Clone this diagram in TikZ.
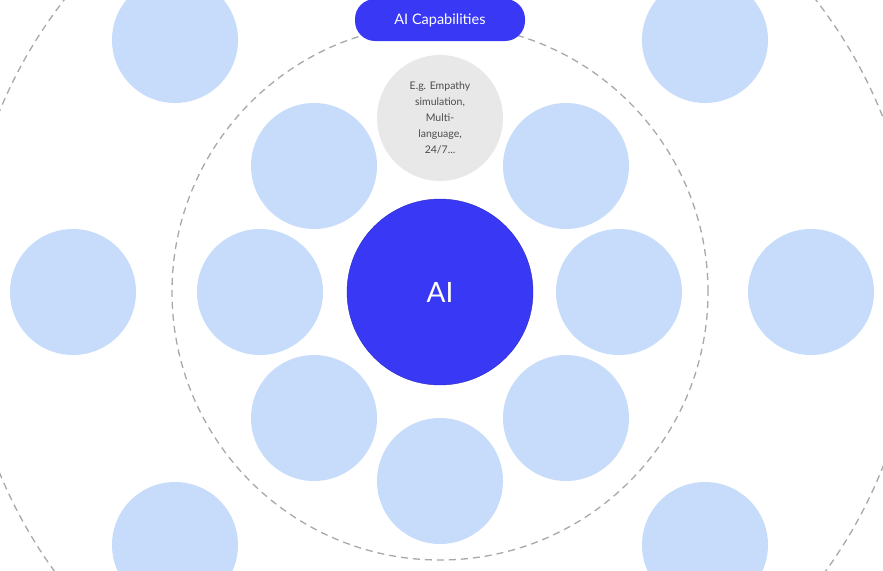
\documentclass[tikz,border=0pt]{standalone}
\usepackage{fontspec}
\setmainfont{Lato}
\definecolor{aiblue}{HTML}{3838F5}
\definecolor{capblue}{HTML}{C6DCFA}
\definecolor{capgrey}{HTML}{E8E8E8}
\definecolor{ringgrey}{HTML}{A8A8A8}
\begin{document}
\begin{tikzpicture}[x=1pt,y=-1pt,
  capcircle/.style={circle, fill=capblue, minimum size=126pt, inner sep=0pt},
  ring/.style={draw=ringgrey, dashed, dash pattern=on 7pt off 5pt, line width=1.3pt}]
\useasboundingbox (0,0) rectangle (883,570);

% Ringe
\coordinate (center) at (440,292);
\draw[ring] (center) circle (268pt);
\draw[ring] (center) circle (476pt);

% Aeussere Kreise
\node (outerA) [capcircle] at (175,40) {};
\node (outerB) [capcircle] at (705,40) {};
\node (outerC) [capcircle] at (73,292) {};
\node (outerD) [capcircle] at (811,292) {};
\node (outerE) [capcircle] at (175,545) {};
\node (outerF) [capcircle] at (705,545) {};

% Innere Kreise
\node (example) [circle, fill=capgrey, minimum size=126pt, inner sep=0pt, align=center, font=\fontsize{10.5}{16}\selectfont, text=black!70] at (440,118) {E.g. Empathy\\simulation,\\Multi-\\language,\\24/7...};
\node (innerA) [capcircle] at (566,166) {};
\node (innerB) [capcircle] at (619,292) {};
\node (innerC) [capcircle] at (566,418) {};
\node (innerD) [capcircle] at (440,481) {};
\node (innerE) [capcircle] at (314,418) {};
\node (innerF) [capcircle] at (260,292) {};
\node (innerG) [capcircle] at (314,166) {};

% Mitte
\node (ai) [circle, fill=aiblue, draw=aiblue!80!black, minimum size=186pt, text=white, font=\fontsize{28}{30}\selectfont] at (center) {AI};

% Titel
\node (title) [rectangle, rounded corners=20pt, fill=aiblue, text=white, minimum width=170pt, minimum height=42pt, font=\fontsize{14.5}{16}\selectfont] at (440,20) {AI Capabilities};
\end{tikzpicture}
\end{document}
